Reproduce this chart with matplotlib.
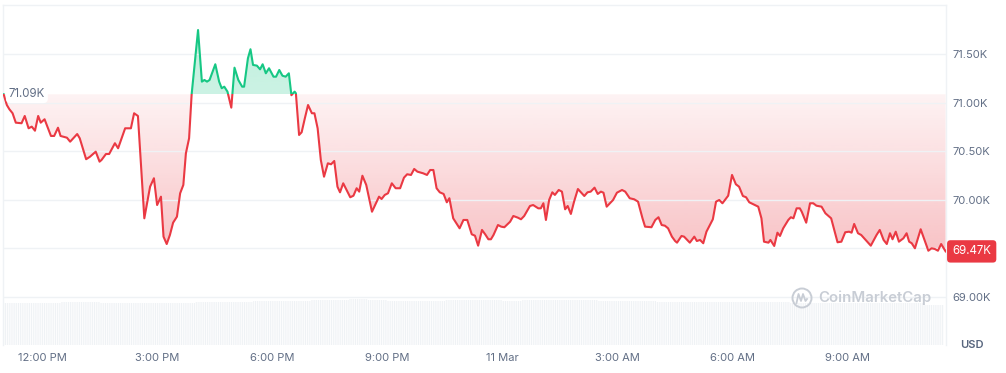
import matplotlib
import matplotlib.pyplot as plt
import numpy as np
from matplotlib.patches import Rectangle, Circle
from matplotlib.path import Path
from matplotlib.lines import Line2D

plt.rcParams['font.family'] = ['Inter', 'DejaVu Sans']
plt.rcParams['hatch.linewidth'] = 0.6

# BTC price, minutes after 10 Mar 11:00 AM
times = [0, 5, 9, 14, 19, 28, 33, 39, 44, 49,
         54, 58, 64, 74, 79, 85, 89, 99, 104, 115,
         119, 129, 135, 144, 150, 153, 160, 165, 174, 179,
         190, 199, 204, 210, 220, 229, 235, 240, 246, 250,
         255, 260, 265, 271, 276, 281, 285, 290, 294, 304,
         310, 314, 318, 322, 331, 337, 341, 345, 350, 356,
         361, 367, 373, 376, 382, 386, 390, 396, 401, 405,
         410, 415, 422, 426, 431, 436, 441, 446, 450, 455,
         457, 462, 466, 471, 476, 482, 486, 491, 496, 501,
         507, 512, 517, 522, 526, 531, 542, 547, 552, 556,
         561, 567, 576, 587, 591, 596, 601, 607, 613, 620,
         626, 631, 637, 642, 647, 656, 662, 667, 672, 677,
         682, 688, 693, 697, 703, 713, 719, 725, 732, 737,
         742, 748, 753, 758, 762, 766, 773, 778, 783, 792,
         797, 804, 809, 814, 823, 828, 836, 840, 844, 848,
         853, 858, 862, 868, 873, 878, 882, 887, 892, 898,
         904, 908, 913, 918, 924, 929, 934, 938, 943, 948,
         953, 959, 967, 972, 979, 986, 992, 999, 1003, 1013,
         1019, 1024, 1029, 1034, 1039, 1045, 1050, 1053, 1060, 1064,
         1073, 1080, 1084, 1089, 1094, 1099, 1109, 1114, 1119, 1124,
         1133, 1139, 1145, 1150, 1156, 1161, 1166, 1180, 1185, 1189,
         1196, 1199, 1205, 1210, 1214, 1219, 1227, 1231, 1235, 1240,
         1245, 1248, 1255, 1261, 1266, 1271, 1279, 1285, 1294, 1304,
         1310, 1316, 1322, 1326, 1330, 1336, 1341, 1356, 1365, 1370,
         1376, 1381, 1386, 1390, 1395, 1400, 1407, 1412, 1416, 1420,
         1425, 1434, 1439, 1446, 1451, 1456, 1461, 1466, 1473]
prices = [71090, 70979, 70935, 70894, 70797, 70791, 70866, 70739, 70756, 70714,
          70866, 70797, 70832, 70660, 70660, 70745, 70660, 70642, 70601, 70680,
          70636, 70420, 70446, 70498, 70395, 70412, 70474, 70474, 70585, 70533,
          70739, 70739, 70894, 70866, 69811, 70137, 70224, 69948, 70034, 69622,
          69546, 69639, 69766, 69828, 70069, 70155, 70481, 70636, 71090, 71752,
          71220, 71237, 71220, 71237, 71399, 71220, 71152, 71168, 71117, 70952,
          71364, 71237, 71168, 71168, 71461, 71554, 71392, 71385, 71347, 71399,
          71306, 71358, 71271, 71271, 71340, 71281, 71271, 71306, 71080, 71117,
          71100, 70670, 70698, 70842, 70979, 70894, 70894, 70739, 70412, 70240,
          70378, 70368, 70402, 70137, 70079, 70172, 70028, 70044, 70121, 70086,
          70250, 70155, 69879, 70034, 70010, 70052, 70069, 70172, 70121, 70121,
          70230, 70265, 70258, 70320, 70292, 70275, 70258, 70309, 70309, 70121,
          70079, 70062, 69976, 70018, 69811, 69708, 69794, 69794, 69646, 69632,
          69529, 69691, 69646, 69595, 69595, 69639, 69742, 69725, 69719, 69776,
          69835, 69818, 69801, 69835, 69938, 69948, 69914, 69914, 69966, 69794,
          70000, 70079, 70052, 70103, 70086, 69904, 69938, 69856, 69983, 70113,
          70069, 70041, 70079, 70086, 70127, 70062, 70086, 70075, 69931, 69966,
          70000, 70075, 70103, 70086, 70018, 70007, 69983, 69811, 69725, 69719,
          69794, 69822, 69742, 69735, 69708, 69622, 69577, 69560, 69629, 69622,
          69560, 69622, 69577, 69588, 69554, 69673, 69801, 69983, 70000, 69966,
          70044, 70258, 70162, 70137, 70041, 70028, 69976, 69931, 69811, 69570,
          69560, 69588, 69526, 69663, 69629, 69708, 69794, 69822, 69811, 69914,
          69914, 69879, 69766, 69966, 69966, 69941, 69931, 69863, 69811, 69564,
          69570, 69667, 69673, 69663, 69753, 69657, 69639, 69529, 69639, 69691,
          69588, 69546, 69657, 69595, 69673, 69570, 69605, 69657, 69570, 69554,
          69502, 69698, 69605, 69477, 69502, 69495, 69477, 69546, 69470]
open_price = 71090
last_price = 69470

# volume, 30 minute buckets
vol_start = list(range(0, 1470, 30))
volume = [420, 420, 420, 430, 430, 420, 420, 420, 420, 420,
          430, 430, 430, 437, 437, 437, 447, 447, 460, 455,
          440, 440, 440, 447, 447, 447, 445, 447, 450, 447,
          455, 437, 437, 437, 435, 430, 430, 430, 430, 430,
          428, 425, 425, 425, 425, 425, 425, 425, 400]

tick_minutes = [60, 240, 420, 600, 780, 960, 1140, 1320]
tick_labels = ['12:00 PM', '3:00 PM', '6:00 PM', '9:00 PM', '11 Mar',
               '3:00 AM', '6:00 AM', '9:00 AM']
price_ticks = [69000, 69500, 70000, 70500, 71000, 71500]
price_labels = ['69.00K', '', '70.00K', '70.50K', '71.00K', '71.50K']

RED = '#ea3943'
GREEN = '#16c784'
GREY = '#616e85'
GRID = '#eff2f5'

fig = plt.figure(figsize=(10.06, 3.73), dpi=100)
ax = fig.add_axes([3 / 1006, 28 / 373, 943 / 1006, 340 / 373])
ax2 = ax.twinx()
ax.set_zorder(ax2.get_zorder() + 1)
ax.patch.set_visible(False)

x0, x1 = -1, 1473.6
y0, y1 = 68505, 72010

# volume bars in the bottom strip, thin white stripes like the 5 min bars
ax2.bar(vol_start, volume, width=30, align='edge', color='#eff2f5', edgecolor='white',
        linewidth=0, hatch='|||||||||')
ax2.set_ylim(0, 3400)
ax2.set_yticks([])
for s in ax2.spines.values():
    s.set_visible(False)

t = np.array(times)
p = np.array(prices)

red_fill = ax.fill_between(t, p, open_price, where=p <= open_price, interpolate=True,
                           facecolor='none', edgecolor='none')
green_fill = ax.fill_between(t, p, open_price, where=p >= open_price, interpolate=True,
                             facecolor='none', edgecolor='none')


def gradient(fill, lo, hi, color, a_lo, a_hi):
    img = np.zeros((256, 1, 4))
    img[:, 0, :3] = matplotlib.colors.to_rgb(color)
    img[:, 0, 3] = np.linspace(a_lo, a_hi, 256)
    im = ax.imshow(img, extent=[x0, x1, lo, hi], origin='lower', aspect='auto',
                   zorder=1, interpolation='bilinear')
    im.set_clip_path(Path.make_compound_path(*fill.get_paths()), transform=ax.transData)


gradient(red_fill, 69450, open_price, RED, 0.31, 0.06)
gradient(green_fill, open_price, 71760, GREEN, 0.22, 0.28)

red_line, = ax.plot(t, p, color=RED, lw=1.5, zorder=3, solid_joinstyle='round')
red_line.set_clip_path(Rectangle((x0, y0), x1 - x0, open_price - y0, transform=ax.transData))
green_line, = ax.plot(t, p, color=GREEN, lw=1.5, zorder=3, solid_joinstyle='round')
green_line.set_clip_path(Rectangle((x0, open_price), x1 - x0, y1 - open_price, transform=ax.transData))

ax.set_xlim(x0, x1)
ax.set_ylim(y0, y1)

ax.yaxis.tick_right()
ax.set_yticks(price_ticks, price_labels)
ax.set_xticks(tick_minutes, tick_labels)
ax.grid(axis='y', color=GRID, lw=1, zorder=1.5)
ax.tick_params(axis='y', length=0, pad=4.5, labelsize=8, labelcolor=GREY)
ax.tick_params(axis='x', length=0, pad=6, labelsize=8, labelcolor=GREY)
for name, s in ax.spines.items():
    s.set_color(GRID)
    s.set_linewidth(1)
ax.spines['bottom'].set_visible(False)

# opening price label
ax.text(8, open_price, '71.09K', ha='left', va='center', fontsize=8.3, color=GREY, zorder=4,
        bbox=dict(boxstyle='round,pad=0.25,rounding_size=0.4', fc='white', ec='none'))

# last price tag
ax.annotate('69.47K', xy=(1, last_price), xycoords=('axes fraction', 'data'),
            xytext=(4.5, 0), textcoords='offset points', ha='left', va='center',
            fontsize=8.3, color='white', annotation_clip=False, zorder=6,
            bbox=dict(boxstyle='round,pad=0.45,rounding_size=0.3', fc=RED, ec='none'))

fig.text(972 / 1006, 1 - 345 / 373, 'USD', ha='center', va='center', fontsize=8,
         fontweight='semibold', color='#58667e')

# watermark
fig.text(818 / 1006, 1 - 298 / 373, 'CoinMarketCap', ha='left', va='center', fontsize=10.8,
         fontweight='semibold', color='#c8cdd5', zorder=10)
fig.add_artist(Circle((8.02, 0.75), 0.095, transform=fig.dpi_scale_trans, fill=False,
                      ec='#c8cdd5', lw=1.4, zorder=10))
fig.add_artist(Line2D([7.965, 7.985, 8.01, 8.03, 8.055, 8.07], [0.70, 0.79, 0.72, 0.79, 0.72, 0.74],
                      transform=fig.dpi_scale_trans, color='#c8cdd5', lw=1.3, zorder=10))

fig.savefig('out.png', dpi=100)
